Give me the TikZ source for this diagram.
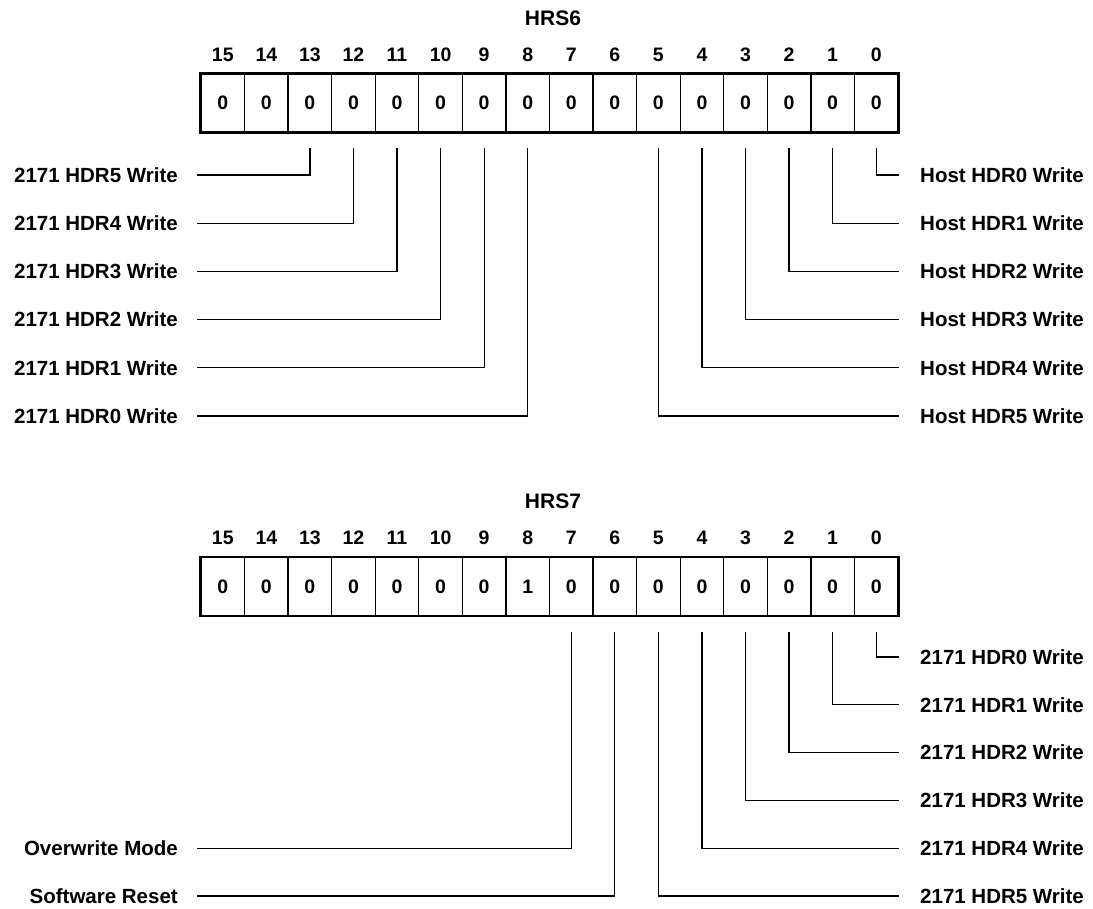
\documentclass[tikz,border=0pt]{standalone}
\usepackage{fontspec}
\setmainfont{Liberation Sans}
\begin{document}
\begin{tikzpicture}[x=1pt,y=-1pt,
  cell/.style={draw,line width=1.3pt,minimum width=43.5625pt,minimum height=57.5pt,inner sep=0pt,font=\fontsize{19.5}{21}\selectfont\bfseries},
  bitnum/.style={inner sep=0pt,font=\fontsize{19.5}{21}\selectfont\bfseries},
  title/.style={inner sep=0pt,font=\fontsize{21}{23}\selectfont\bfseries},
  leftlbl/.style={anchor=east,inner xsep=19pt,inner ysep=0pt,font=\fontsize{20.5}{22}\selectfont\bfseries},
  rightlbl/.style={anchor=west,inner xsep=21pt,inner ysep=0pt,font=\fontsize{20.5}{22}\selectfont\bfseries},
  conn/.style={line width=1.3pt},
  outer/.style={line width=2.6pt}]
\useasboundingbox (0,0) rectangle (1093,909);
% ---------------- HRS6 ----------------
\node[title] (t6) at (553,18) {HRS6};
\foreach \b in {0,...,15}{
  \pgfmathsetmacro\cx{201+43.5625*(15-\b+0.5)}
  \node[cell] (p\b) at (\cx,103) {0};
  \node[bitnum] (n\b) at (\cx,55) {\b};
}
\draw[outer] (p15.north west) rectangle (p0.south east);
\foreach \b [count=\k from 0] in {13,12,11,10,9,8}{
  \pgfmathtruncatemacro\h{\b-8}
  \node[leftlbl] (L\b) at (197,175+48.2*\k) {2171 HDR\h\ Write};
  \coordinate (s\b) at ([yshift=-16pt]p\b.south);
  \draw[conn] (s\b) |- (L\b.east);
}
\foreach \b in {0,...,5}{
  \node[rightlbl] (R\b) at (899,175+48.2*\b) {Host HDR\b\ Write};
  \coordinate (s\b) at ([yshift=-16pt]p\b.south);
  \draw[conn] (s\b) |- (R\b.west);
}
% ---------------- HRS7 ----------------
\node[title] (t7) at (553,501) {HRS7};
\foreach \b in {0,...,15}{
  \pgfmathsetmacro\cx{201+43.5625*(15-\b+0.5)}
  \ifnum\b=8
    \node[cell] (q\b) at (\cx,586.5) {1};
  \else
    \node[cell] (q\b) at (\cx,586.5) {0};
  \fi
  \node[bitnum] (m\b) at (\cx,538) {\b};
}
\draw[outer] (q15.north west) rectangle (q0.south east);
\foreach \b in {0,...,5}{
  \node[rightlbl] (S\b) at (899,657+47.8*\b) {2171 HDR\b\ Write};
  \coordinate (u\b) at ([yshift=-16pt]q\b.south);
  \draw[conn] (u\b) |- (S\b.west);
}
\node[leftlbl] (ow) at (197,657+47.8*4) {Overwrite Mode};
\node[leftlbl] (sr) at (197,657+47.8*5) {Software Reset};
\coordinate (u7) at ([yshift=-16pt]q7.south);
\coordinate (u6) at ([yshift=-16pt]q6.south);
\draw[conn] (u7) |- (ow.east);
\draw[conn] (u6) |- (sr.east);
\end{tikzpicture}
\end{document}
